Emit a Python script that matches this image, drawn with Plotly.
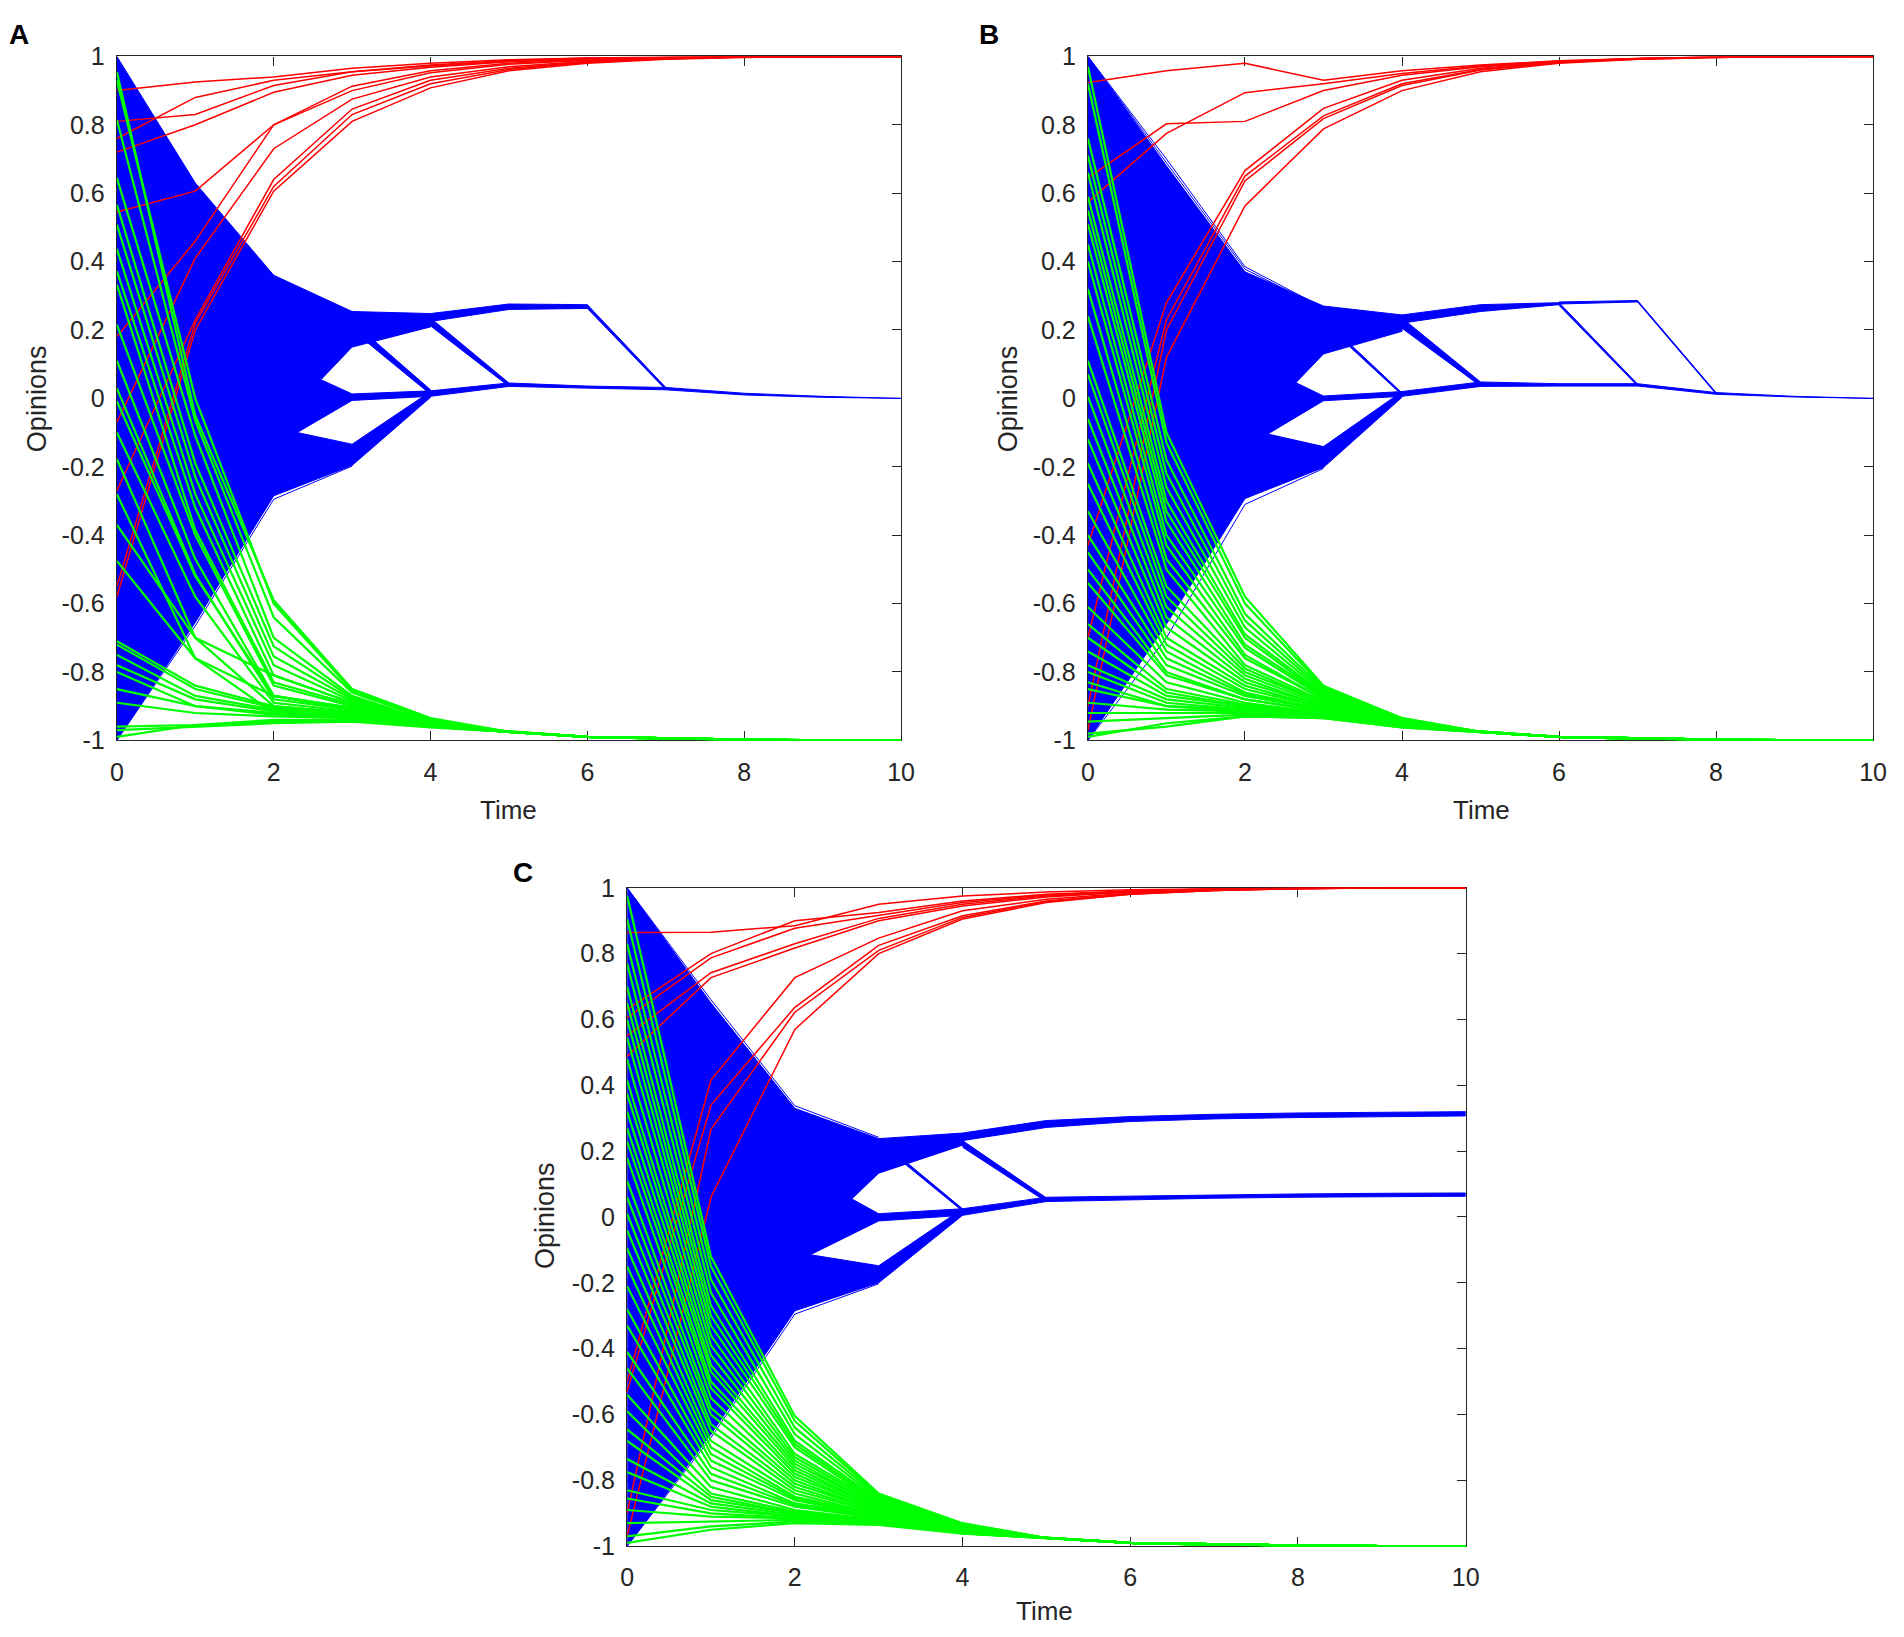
import plotly.graph_objects as go

# ---------------- shared axis data ----------------
time = list(range(11))
x_tick_vals = [0, 2, 4, 6, 8, 10]
x_tick_text = ["0", "2", "4", "6", "8", "10"]
y_tick_vals = [-1, -0.8, -0.6, -0.4, -0.2, 0, 0.2, 0.4, 0.6, 0.8, 1]
y_tick_text = ["-1", "-0.8", "-0.6", "-0.4", "-0.2", "0", "0.2", "0.4", "0.6", "0.8", "1"]
panel_letters = ["A", "B", "C"]
x_title = "Time"
y_title = "Opinions"

# green agents share the same late trajectory (t = 5..10)
green_tail = [-0.975, -0.99, -0.995, -0.998, -1.0, -1.0]

# ---------------- Panel A ----------------
a_red = [
    [0.90, 0.925, 0.94, 0.965, 0.98, 0.99, 0.995, 0.998, 1.0, 1.0, 1.0],
    [0.81, 0.83, 0.915, 0.955, 0.975, 0.988, 0.995, 0.998, 1.0, 1.0, 1.0],
    [0.76, 0.88, 0.93, 0.955, 0.972, 0.986, 0.993, 0.997, 1.0, 1.0, 1.0],
    [0.72, 0.80, 0.895, 0.945, 0.968, 0.984, 0.992, 0.997, 0.999, 1.0, 1.0],
    [0.545, 0.606, 0.80, 0.913, 0.958, 0.98, 0.99, 0.996, 0.999, 1.0, 1.0],
    [0.18, 0.46, 0.80, 0.90, 0.952, 0.977, 0.989, 0.995, 0.999, 1.0, 1.0],
    [-0.07, 0.41, 0.73, 0.875, 0.94, 0.97, 0.986, 0.994, 0.998, 1.0, 1.0],
    [-0.27, 0.23, 0.64, 0.846, 0.93, 0.965, 0.984, 0.993, 0.998, 1.0, 1.0],
    [-0.55, 0.22, 0.62, 0.83, 0.92, 0.962, 0.982, 0.993, 0.998, 1.0, 1.0],
    [-0.58, 0.20, 0.606, 0.81, 0.908, 0.958, 0.98, 0.992, 0.997, 1.0, 1.0],
]
a_green = [  # t = 0..4
    [0.955, -0.05, -0.59, -0.85, -0.935],
    [0.93, 0.0, -0.60, -0.855, -0.94],
    [0.815, -0.065, -0.64, -0.86, -0.94],
    [0.645, -0.11, -0.70, -0.87, -0.945],
    [0.567, -0.19, -0.725, -0.875, -0.945],
    [0.508, -0.23, -0.755, -0.88, -0.948],
    [0.437, -0.28, -0.78, -0.885, -0.95],
    [0.372, -0.32, -0.81, -0.89, -0.95],
    [0.333, -0.385, -0.83, -0.895, -0.95],
    [0.216, -0.40, -0.84, -0.90, -0.952],
    [0.11, -0.47, -0.87, -0.905, -0.952],
    [0.03, -0.515, -0.88, -0.91, -0.955],
    [-0.008, -0.52, -0.87, -0.905, -0.955],
    [-0.10, -0.58, -0.89, -0.915, -0.955],
    [-0.177, -0.70, -0.90, -0.92, -0.957],
    [-0.28, -0.76, -0.92, -0.925, -0.958],
    [-0.37, -0.70, -0.81, -0.89, -0.95],
    [-0.475, -0.76, -0.87, -0.91, -0.955],
    [-0.71, -0.84, -0.90, -0.92, -0.955],
    [-0.72, -0.85, -0.905, -0.92, -0.955],
    [-0.75, -0.87, -0.91, -0.925, -0.957],
    [-0.78, -0.88, -0.915, -0.925, -0.957],
    [-0.80, -0.90, -0.92, -0.93, -0.958],
    [-0.85, -0.90, -0.925, -0.93, -0.958],
    [-0.89, -0.92, -0.93, -0.935, -0.96],
    [-0.96, -0.955, -0.94, -0.94, -0.96],
    [-0.99, -0.955, -0.945, -0.94, -0.96],
    [-0.97, -0.96, -0.95, -0.945, -0.962],
]
a_blue_bands = [  # [times, lower edge, upper edge] of dense blue bundles
    [[0, 1, 2, 3], [-0.60, -0.35, -0.09, 0.15], [1.0, 0.63, 0.36, 0.254]],
    [[0, 1, 2, 3], [-0.60, -0.40, -0.14, -0.006], [0.60, 0.35, 0.118, 0.013]],
    [[0, 1, 2, 3, 4], [-1.0, -0.655, -0.285, -0.196, 0.003], [0.30, 0.0, -0.085, -0.134, 0.02]],
    [[3, 4], [0.15, 0.209], [0.254, 0.248]],
    [[3, 4], [0.20, 0.012], [0.225, 0.025]],
    [[4, 5], [0.225, 0.26], [0.248, 0.276]],
    [[4, 5], [0.212, 0.035], [0.235, 0.045]],
    [[5, 6], [0.26, 0.263], [0.276, 0.274]],
    [[6, 7], [0.263, 0.025], [0.274, 0.032]],
    [[3, 4, 5, 6, 7, 8, 9, 10], [-0.006, 0.006, 0.035, 0.03, 0.025, 0.01, 0.003, 0.0],
     [0.013, 0.022, 0.045, 0.036, 0.032, 0.015, 0.006, 0.002]],
]
a_blue_lines = [
    [[0, 1, 2, 3], [-1.0, -0.665, -0.295, -0.198]],
]

# ---------------- Panel B ----------------
b_red = [
    [0.924, 0.958, 0.98, 0.93, 0.958, 0.975, 0.987, 0.994, 0.998, 1.0, 1.0],
    [0.645, 0.803, 0.81, 0.90, 0.945, 0.97, 0.985, 0.993, 0.998, 1.0, 1.0],
    [0.574, 0.775, 0.894, 0.92, 0.95, 0.972, 0.986, 0.994, 0.998, 1.0, 1.0],
    [-0.43, 0.28, 0.666, 0.848, 0.93, 0.965, 0.984, 0.993, 0.998, 1.0, 1.0],
    [-0.70, 0.23, 0.65, 0.826, 0.92, 0.962, 0.983, 0.993, 0.998, 1.0, 1.0],
    [-0.90, 0.20, 0.636, 0.818, 0.915, 0.96, 0.982, 0.992, 0.997, 1.0, 1.0],
    [-0.97, 0.12, 0.563, 0.788, 0.90, 0.955, 0.98, 0.992, 0.997, 1.0, 1.0],
]
b_green = [
    [0.97, -0.10, -0.58, -0.84, -0.935],
    [0.92, -0.13, -0.60, -0.845, -0.935],
    [0.76, -0.18, -0.63, -0.85, -0.94],
    [0.71, -0.22, -0.65, -0.855, -0.94],
    [0.66, -0.26, -0.67, -0.86, -0.94],
    [0.59, -0.30, -0.69, -0.865, -0.942],
    [0.55, -0.33, -0.70, -0.87, -0.945],
    [0.51, -0.36, -0.72, -0.87, -0.945],
    [0.45, -0.40, -0.73, -0.875, -0.945],
    [0.40, -0.43, -0.75, -0.88, -0.947],
    [0.32, -0.47, -0.76, -0.88, -0.948],
    [0.24, -0.50, -0.78, -0.885, -0.948],
    [0.11, -0.55, -0.79, -0.89, -0.95],
    [0.07, -0.58, -0.80, -0.89, -0.95],
    [0.005, -0.61, -0.81, -0.895, -0.95],
    [-0.06, -0.64, -0.82, -0.90, -0.952],
    [-0.12, -0.67, -0.83, -0.90, -0.952],
    [-0.19, -0.70, -0.84, -0.905, -0.953],
    [-0.25, -0.72, -0.85, -0.905, -0.953],
    [-0.33, -0.74, -0.86, -0.91, -0.955],
    [-0.40, -0.76, -0.865, -0.91, -0.955],
    [-0.45, -0.78, -0.87, -0.91, -0.955],
    [-0.50, -0.80, -0.88, -0.915, -0.956],
    [-0.54, -0.81, -0.88, -0.915, -0.956],
    [-0.61, -0.83, -0.89, -0.92, -0.957],
    [-0.66, -0.85, -0.895, -0.92, -0.957],
    [-0.70, -0.86, -0.90, -0.92, -0.958],
    [-0.74, -0.87, -0.90, -0.925, -0.958],
    [-0.78, -0.88, -0.905, -0.925, -0.958],
    [-0.80, -0.89, -0.91, -0.925, -0.958],
    [-0.83, -0.90, -0.91, -0.925, -0.96],
    [-0.85, -0.90, -0.915, -0.93, -0.96],
    [-0.89, -0.91, -0.915, -0.93, -0.96],
    [-0.92, -0.92, -0.92, -0.93, -0.96],
    [-0.945, -0.935, -0.925, -0.93, -0.96],
    [-0.99, -0.95, -0.93, -0.935, -0.962],
    [-0.98, -0.96, -0.93, -0.935, -0.962],
]
b_blue_bands = [
    [[0, 1, 2, 3], [-0.60, -0.35, -0.11, 0.13], [1.0, 0.68, 0.37, 0.27]],
    [[0, 1, 2, 3], [-0.60, -0.40, -0.144, -0.007], [0.60, 0.35, 0.118, 0.007]],
    [[0, 1, 2, 3, 4], [-1.0, -0.66, -0.293, -0.202, 0.003], [0.30, 0.0, -0.089, -0.141, 0.02]],
    [[3, 4], [0.13, 0.196], [0.27, 0.244]],
    [[3, 4], [0.222, 0.01], [0.232, 0.016]],
    [[4, 5], [0.22, 0.254], [0.244, 0.274]],
    [[4, 5], [0.205, 0.036], [0.235, 0.048]],
    [[5, 6], [0.254, 0.274], [0.274, 0.28]],
    [[6, 7], [0.272, 0.036], [0.28, 0.042]],
    [[6, 7], [0.276, 0.282], [0.282, 0.286]],
    [[7, 8], [0.282, 0.013], [0.286, 0.017]],
    [[3, 4, 5, 6, 7, 8, 9, 10], [-0.007, 0.006, 0.035, 0.036, 0.036, 0.012, 0.004, 0.0],
     [0.007, 0.02, 0.048, 0.043, 0.043, 0.017, 0.006, 0.002]],
]
b_blue_lines = [
    [[0, 1, 2, 3], [1.0, 0.70, 0.385, 0.265]],
    [[0, 1, 2, 3], [1.0, 0.69, 0.378, 0.262]],
    [[0, 1, 2, 3], [-1.0, -0.70, -0.31, -0.205]],
]

# ---------------- Panel C ----------------
c_red = [
    [0.864, 0.865, 0.885, 0.95, 0.975, 0.987, 0.994, 0.997, 0.999, 1.0, 1.0],
    [0.63, 0.80, 0.90, 0.925, 0.96, 0.98, 0.99, 0.996, 0.999, 1.0, 1.0],
    [0.605, 0.787, 0.877, 0.915, 0.955, 0.978, 0.99, 0.996, 0.999, 1.0, 1.0],
    [0.55, 0.742, 0.83, 0.907, 0.95, 0.975, 0.988, 0.995, 0.999, 1.0, 1.0],
    [0.488, 0.727, 0.817, 0.90, 0.945, 0.972, 0.987, 0.995, 0.999, 1.0, 1.0],
    [-0.50, 0.416, 0.727, 0.847, 0.93, 0.965, 0.984, 0.993, 0.998, 1.0, 1.0],
    [-0.53, 0.34, 0.637, 0.825, 0.915, 0.96, 0.982, 0.992, 0.998, 1.0, 1.0],
    [-0.90, 0.266, 0.622, 0.81, 0.91, 0.958, 0.98, 0.992, 0.997, 1.0, 1.0],
    [-0.97, 0.06, 0.57, 0.80, 0.905, 0.955, 0.98, 0.992, 0.997, 1.0, 1.0],
]
c_green = [
    [0.976, -0.12, -0.605, -0.84, -0.93],
    [0.905, -0.15, -0.62, -0.845, -0.932],
    [0.83, -0.19, -0.64, -0.85, -0.935],
    [0.77, -0.23, -0.66, -0.855, -0.937],
    [0.70, -0.27, -0.68, -0.86, -0.94],
    [0.65, -0.30, -0.69, -0.865, -0.94],
    [0.60, -0.33, -0.70, -0.87, -0.942],
    [0.545, -0.36, -0.72, -0.87, -0.943],
    [0.48, -0.39, -0.73, -0.875, -0.945],
    [0.415, -0.42, -0.74, -0.88, -0.945],
    [0.375, -0.45, -0.75, -0.88, -0.946],
    [0.32, -0.47, -0.76, -0.885, -0.947],
    [0.27, -0.50, -0.77, -0.885, -0.948],
    [0.23, -0.52, -0.78, -0.89, -0.948],
    [0.18, -0.55, -0.79, -0.89, -0.95],
    [0.11, -0.58, -0.80, -0.895, -0.95],
    [0.06, -0.60, -0.81, -0.895, -0.95],
    [0.01, -0.63, -0.82, -0.90, -0.952],
    [-0.04, -0.65, -0.83, -0.90, -0.952],
    [-0.095, -0.68, -0.84, -0.905, -0.953],
    [-0.15, -0.70, -0.85, -0.905, -0.953],
    [-0.21, -0.72, -0.855, -0.91, -0.954],
    [-0.28, -0.74, -0.86, -0.91, -0.955],
    [-0.33, -0.76, -0.87, -0.91, -0.955],
    [-0.41, -0.78, -0.875, -0.915, -0.956],
    [-0.46, -0.80, -0.88, -0.915, -0.956],
    [-0.54, -0.82, -0.89, -0.92, -0.957],
    [-0.59, -0.84, -0.895, -0.92, -0.957],
    [-0.645, -0.85, -0.90, -0.92, -0.958],
    [-0.68, -0.86, -0.90, -0.925, -0.958],
    [-0.735, -0.87, -0.905, -0.925, -0.958],
    [-0.775, -0.88, -0.91, -0.925, -0.958],
    [-0.83, -0.89, -0.91, -0.925, -0.96],
    [-0.855, -0.90, -0.915, -0.93, -0.96],
    [-0.89, -0.91, -0.915, -0.93, -0.96],
    [-0.93, -0.925, -0.92, -0.93, -0.96],
    [-0.97, -0.94, -0.925, -0.93, -0.96],
    [-0.99, -0.95, -0.93, -0.935, -0.962],
]
c_blue_bands = [
    [[0, 1, 2, 3], [-0.60, -0.35, -0.111, 0.133], [1.0, 0.65, 0.33, 0.238]],
    [[0, 1, 2, 3], [-0.60, -0.40, -0.138, -0.012], [0.60, 0.35, 0.15, 0.01]],
    [[0, 1, 2, 3, 4], [-1.0, -0.66, -0.285, -0.20, 0.005], [0.30, 0.0, -0.107, -0.148, 0.025]],
    [[3, 4], [0.133, 0.218], [0.238, 0.255]],
    [[3, 4], [0.226, 0.018], [0.236, 0.025]],
    [[4, 5, 6, 7, 8, 9, 10], [0.232, 0.272, 0.29, 0.298, 0.302, 0.305, 0.307],
     [0.255, 0.293, 0.305, 0.312, 0.316, 0.318, 0.32]],
    [[4, 5], [0.212, 0.046], [0.232, 0.058]],
    [[3, 4, 5, 6, 7, 8, 9, 10], [-0.012, 0.005, 0.047, 0.053, 0.057, 0.06, 0.062, 0.063],
     [0.01, 0.025, 0.06, 0.064, 0.068, 0.07, 0.072, 0.073]],
]
c_blue_lines = [
    [[0, 1, 2, 3], [1.0, 0.66, 0.338, 0.242]],
    [[0, 1, 2, 3], [-1.0, -0.67, -0.295, -0.203]],
]

# ---------------- styling ----------------
BLUE = "#0000FF"
RED = "#FF0000"
GREEN = "#00FF00"
AXIS_COL = "#262626"
FONT = "Liberation Sans, Arial, sans-serif"
PAGE_W, PAGE_H = 1904, 1637
BODY_MARGIN = 8                      # default page margin around the plot div
W, H = PAGE_W - 2 * BODY_MARGIN, PAGE_H - 2 * BODY_MARGIN


def px_x(px):
    return (px - BODY_MARGIN) / W


def px_y(py):
    return 1 - (py - BODY_MARGIN) / H


panels = [
    dict(red=a_red, green=a_green, bands=a_blue_bands, blines=a_blue_lines,
         xdom=[111, 904], ydom=[43, 739], letter=(12, 21), xt=(507, 810), yt=(31, 391)),
    dict(red=b_red, green=b_green, bands=b_blue_bands, blines=b_blue_lines,
         xdom=[1093, 1887], ydom=[43, 739], letter=(993, 21), xt=(1491, 810), yt=(1013, 391)),
    dict(red=c_red, green=c_green, bands=c_blue_bands, blines=c_blue_lines,
         xdom=[627, 1475], ydom=[889, 1559], letter=(522, 873), xt=(1049, 1625), yt=(544, 1223)),
]


def band_trace(bands, xa, ya):
    xs, ys = [], []
    for t, lo, hi in bands:
        xs += list(t) + list(reversed(t)) + [None]
        ys += list(hi) + list(reversed(lo)) + [None]
    return go.Scatter(x=xs, y=ys, mode="lines", fill="toself", fillcolor=BLUE,
                      line=dict(color=BLUE, width=1), xaxis=xa, yaxis=ya,
                      hoverinfo="skip", showlegend=False)


def lines_trace(paths, color, width, xa, ya):
    xs, ys = [], []
    for t, y in paths:
        xs += list(t) + [None]
        ys += list(y) + [None]
    return go.Scatter(x=xs, y=ys, mode="lines", line=dict(color=color, width=width),
                      xaxis=xa, yaxis=ya, hoverinfo="skip", showlegend=False)


fig = go.Figure()
layout = dict(width=W, height=H, margin=dict(l=0, r=0, t=0, b=0),
              paper_bgcolor="white", plot_bgcolor="white", showlegend=False,
              font=dict(family=FONT, color=AXIS_COL))
annotations = []

for i, p in enumerate(panels):
    k = "" if i == 0 else str(i + 1)
    xa, ya = "x" + k, "y" + k
    fig.add_trace(band_trace(p["bands"], xa, ya))
    fig.add_trace(lines_trace(p["blines"], BLUE, 1, xa, ya))
    fig.add_trace(lines_trace([[time, r] for r in p["red"]], RED, 1.5, xa, ya))
    fig.add_trace(lines_trace([[time, g + green_tail] for g in p["green"]], GREEN, 2.2, xa, ya))

    axis_common = dict(showline=True, linecolor=AXIS_COL, linewidth=1.3, mirror="ticks",
                       ticks="inside", ticklen=9, tickwidth=1.2, tickcolor=AXIS_COL,
                       showgrid=False, zeroline=False, layer="below traces",
                       tickfont=dict(family=FONT, size=25, color=AXIS_COL))
    layout["xaxis" + k] = dict(axis_common, domain=[px_x(p["xdom"][0]), px_x(p["xdom"][1])],
                               range=[0, 10], tickvals=x_tick_vals, ticktext=x_tick_text,
                               anchor=ya, ticklabelstandoff=9)
    layout["yaxis" + k] = dict(axis_common, domain=[px_y(p["ydom"][1]), px_y(p["ydom"][0])],
                               range=[-1, 1], tickvals=y_tick_vals, ticktext=y_tick_text,
                               anchor=xa, ticklabelstandoff=6)
    lx, ly = p["letter"]
    annotations.append(dict(text="<b>%s</b>" % panel_letters[i], x=px_x(lx), y=px_y(ly),
                            xref="paper", yref="paper", showarrow=False,
                            xanchor="center", yanchor="middle",
                            font=dict(family=FONT, size=28, color="black")))
    tx, ty = p["xt"]
    annotations.append(dict(text=x_title, x=px_x(tx), y=px_y(ty), xref="paper", yref="paper",
                            showarrow=False, xanchor="center", yanchor="middle",
                            font=dict(family=FONT, size=26, color=AXIS_COL)))
    ox, oy = p["yt"]
    annotations.append(dict(text=y_title, x=px_x(ox), y=px_y(oy), xref="paper", yref="paper",
                            showarrow=False, xanchor="center", yanchor="middle", textangle=-90,
                            font=dict(family=FONT, size=27, color=AXIS_COL)))

layout["annotations"] = annotations
fig.update_layout(**layout)
fig.write_html("out.html", config={"displayModeBar": False})
